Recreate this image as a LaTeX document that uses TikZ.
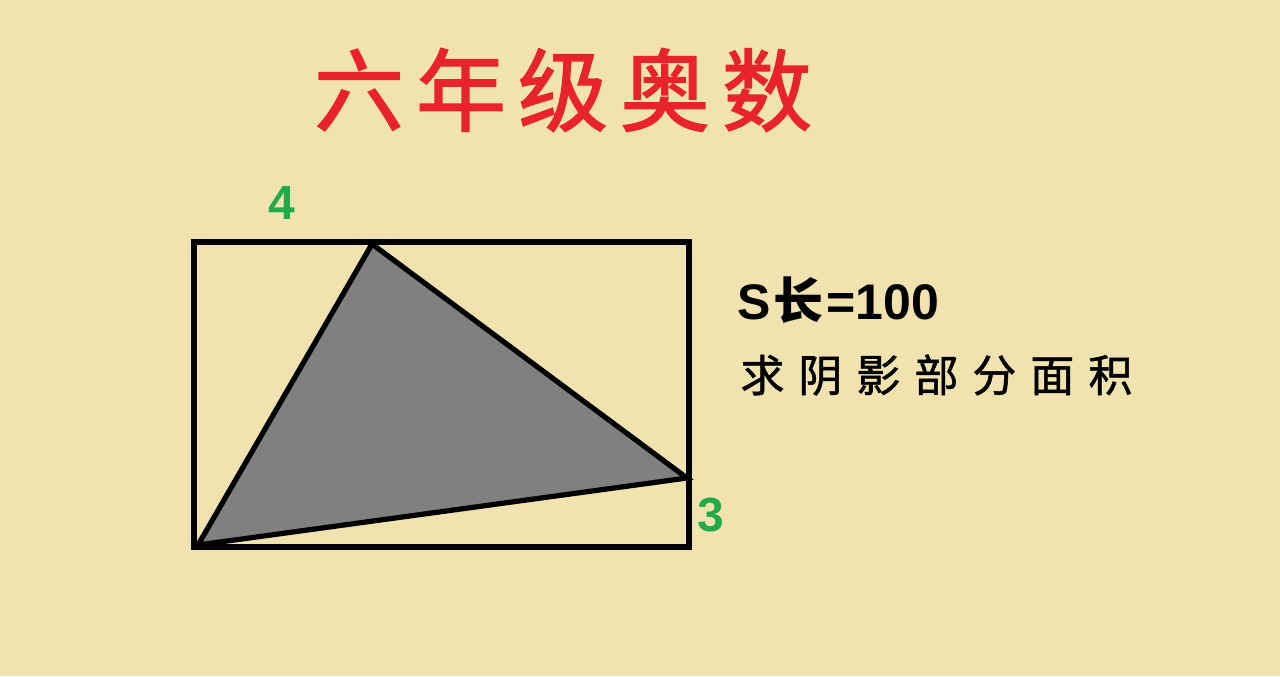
\documentclass[tikz,border=0pt]{standalone}
\usepackage{fontspec}
\setmainfont{Liberation Sans}
\newfontfamily\cjk{Noto Sans CJK SC}
\newfontfamily\cjkheavy[FakeBold=1.6]{Noto Sans CJK SC}
\newfontfamily\cjkmid[FakeBold=1.2]{Noto Sans CJK SC}
\usetikzlibrary{positioning}
\definecolor{paper}{HTML}{F0E3B0}
\definecolor{grayfill}{HTML}{808080}
\definecolor{numgreen}{HTML}{22AA4A}
\definecolor{titlered}{HTML}{E8232A}
\tikzset{
  edge line/.style={line width=2.6pt, line join=miter},
  num label/.style={numgreen, font=\fontsize{24}{24}\selectfont\bfseries, inner sep=0pt},
}
\begin{document}
\begin{tikzpicture}[x=0.5pt,y=-0.5pt]
  \fill[paper] (0,0) rectangle (1280,676);
  \useasboundingbox (0,0) rectangle (1280,676);

  \node (title) [titlered, inner sep=0pt, font=\cjkheavy\fontsize{45}{45}\selectfont] at (563,90)
    {六\kern6pt 年\kern6pt 级\kern6pt 奥\kern6pt 数};

  \coordinate (bl) at (194,547);
  \coordinate (tr) at (689,242);
  \coordinate (a) at (198,545);
  \coordinate (b) at (372,244);
  \coordinate (c) at (687,478);

  \fill[grayfill] (a) -- (b) -- (c) -- cycle;
  \draw[edge line] (bl) rectangle (tr);
  \draw[edge line] (a) -- (b) -- (c) -- cycle;

  \node (four) [num label] at (282,203) {4};
  \node (three) [num label] at (711,515) {3};

  \node (area) [anchor=west, inner sep=0pt, font=\fontsize{25}{25}\selectfont\bfseries] at (737,300)
    {S\kern1.5pt{\cjk 长}\kern1.5pt=100};
  \node (ask) [anchor=west, inner sep=0pt, font=\cjkmid\fontsize{22}{22}\selectfont] at (740,375)
    {求\kern7pt 阴\kern7pt 影\kern7pt 部\kern7pt 分\kern7pt 面\kern7pt 积};
\end{tikzpicture}
\end{document}
